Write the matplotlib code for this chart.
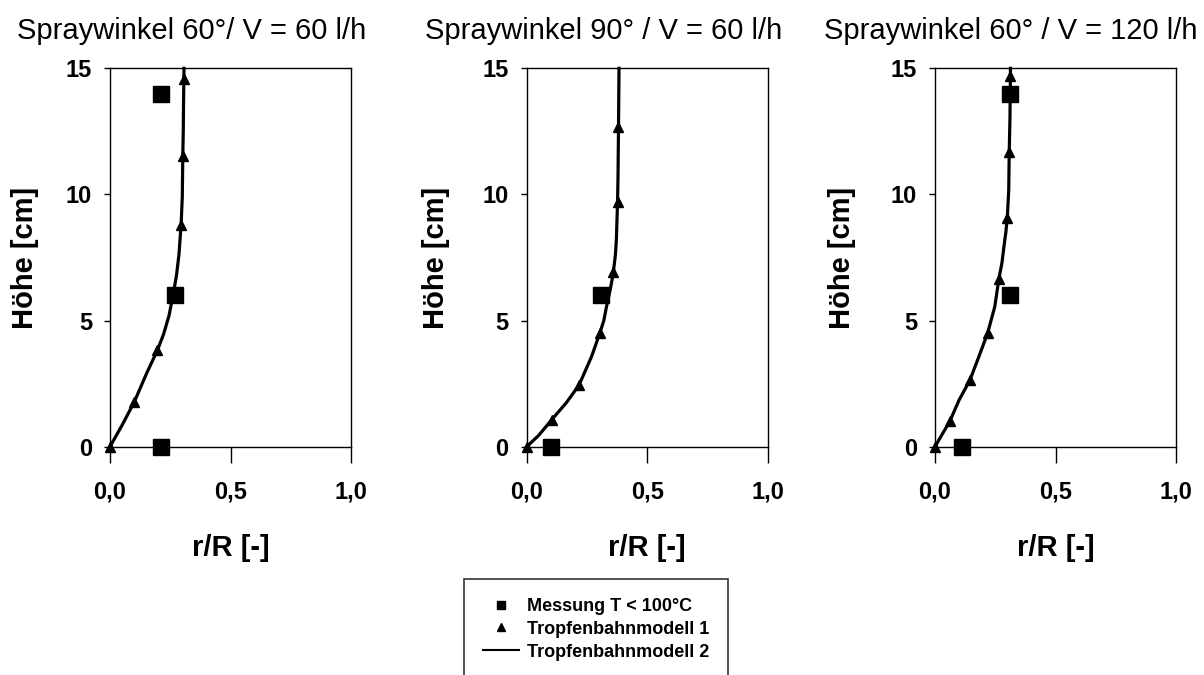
import matplotlib
matplotlib.use('Agg')
import matplotlib.pyplot as plt
from matplotlib.lines import Line2D

plt.rcParams['font.family'] = ['Liberation Sans', 'DejaVu Sans']

titles = ['Spraywinkel 60°/ V = 60 l/h',
          'Spraywinkel 90° / V = 60 l/h',
          'Spraywinkel 60° / V = 120 l/h']
xticks = [0.0, 0.5, 1.0]
xtick_labels = ['0,0', '0,5', '1,0']
yticks = [0, 5, 10, 15]
legend_labels = ['Messung T < 100°C', 'Tropfenbahnmodell 1', 'Tropfenbahnmodell 2']

# Messung T < 100°C (squares)
mess1_r = [0.21, 0.27, 0.21]
mess1_h = [0.0, 6.0, 14.0]
mess2_r = [0.10, 0.31]
mess2_h = [0.0, 6.0]
mess3_r = [0.11, 0.31, 0.31]
mess3_h = [0.0, 6.0, 14.0]

# Tropfenbahnmodell 1 (triangles)
tm1_r_a = [0.0, 0.101, 0.197, 0.295, 0.302, 0.305]
tm1_h_a = [0.0, 1.78, 3.83, 8.79, 11.52, 14.56]
tm1_r_b = [0.0, 0.103, 0.217, 0.303, 0.359, 0.377, 0.379]
tm1_h_b = [0.0, 1.06, 2.44, 4.49, 6.94, 9.71, 12.69]
tm1_r_c = [0.0, 0.062, 0.145, 0.218, 0.265, 0.300, 0.308, 0.313]
tm1_h_c = [0.0, 1.02, 2.64, 4.49, 6.65, 9.08, 11.70, 14.70]

# Tropfenbahnmodell 2 (line)
tm2_r_a = [0.0, 0.05, 0.101, 0.152, 0.197, 0.222, 0.245, 0.263, 0.276, 0.286, 0.295, 0.300, 0.302, 0.304, 0.305, 0.307]
tm2_h_a = [0.0, 0.85, 1.78, 2.91, 3.83, 4.45, 5.2, 6.08, 6.8, 7.6, 8.79, 9.91, 11.52, 12.5, 13.48, 15.0]
tm2_r_b = [0.0, 0.05, 0.103, 0.165, 0.217, 0.269, 0.303, 0.320, 0.331, 0.346, 0.359, 0.368, 0.372, 0.377, 0.379, 0.381, 0.383]
tm2_h_b = [0.0, 0.45, 1.06, 1.75, 2.44, 3.57, 4.49, 5.0, 5.55, 6.2, 6.87, 7.6, 8.19, 9.71, 10.8, 12.69, 15.0]
tm2_r_c = [0.0, 0.062, 0.10, 0.145, 0.182, 0.218, 0.248, 0.265, 0.278, 0.286, 0.294, 0.300, 0.306, 0.308, 0.311, 0.313, 0.313]
tm2_h_c = [0.0, 1.02, 1.85, 2.64, 3.57, 4.49, 5.55, 6.65, 7.3, 7.93, 8.5, 9.08, 10.18, 11.70, 13.0, 14.70, 15.0]

panels = [
    (mess1_r, mess1_h, tm1_r_a, tm1_h_a, tm2_r_a, tm2_h_a),
    (mess2_r, mess2_h, tm1_r_b, tm1_h_b, tm2_r_b, tm2_h_b),
    (mess3_r, mess3_h, tm1_r_c, tm1_h_c, tm2_r_c, tm2_h_c),
]

W, H = 1204, 675
fig = plt.figure(figsize=(W / 100, H / 100), dpi=100)

ax_left_px = [110, 526.7, 935]
ax_w_px = 241
ax_top_px, ax_bot_px = 68.3, 446.7
title_x_px = [192, 604, 1011]
ylabel_x = [-0.293, -0.318, -0.328]

for i, (mr, mh, t1r, t1h, t2r, t2h) in enumerate(panels):
    ax = fig.add_axes([ax_left_px[i] / W, 1 - ax_bot_px / H,
                       ax_w_px / W, (ax_bot_px - ax_top_px) / H])
    ax.plot(t2r, t2h, color='black', lw=2.3, clip_on=False, zorder=2,
            solid_joinstyle='round')
    ax.plot(t1r, t1h, ls='none', marker='^', ms=7.5, color='black', clip_on=False, zorder=3)
    ax.plot(mr, mh, ls='none', marker='s', ms=11, color='black', clip_on=False, zorder=4)
    ax.set_xlim(0, 1)
    ax.set_ylim(0, 15)
    ax.set_xticks(xticks)
    ax.set_xticklabels(xtick_labels)
    ax.set_yticks(yticks)
    for lab in ax.get_xticklabels() + ax.get_yticklabels():
        lab.set_fontweight('bold')
        lab.set_fontsize(17)
    ax.tick_params(axis='x', direction='out', length=11.5, width=1, pad=13)
    ax.tick_params(axis='y', direction='out', length=4, width=1, pad=9)
    for sp in ax.spines.values():
        sp.set_linewidth(1)
    ax.set_xlabel('r/R [-]', fontsize=21, fontweight='bold')
    ax.set_ylabel('Höhe [cm]', fontsize=21, fontweight='bold')
    ax.xaxis.set_label_coords(0.5, -0.232)
    ax.yaxis.set_label_coords(ylabel_x[i], 0.5)
    fig.text(title_x_px[i] / W, 1 - 39 / H, titles[i], fontsize=21,
             ha='center', va='baseline')

handles = [
    Line2D([], [], ls='none', marker='s', ms=6, color='black'),
    Line2D([], [], ls='none', marker='^', ms=6, color='black'),
    Line2D([], [], color='black', lw=1.5),
]
leg = fig.legend(handles, legend_labels, loc='upper left',
                 bbox_to_anchor=(464 / W, 1 - 579 / H), borderaxespad=0,
                 fancybox=False, frameon=True, edgecolor='black',
                 prop={'weight': 'bold', 'size': 13},
                 handlelength=2.0, handletextpad=0.45, labelspacing=0.32,
                 borderpad=1.05)
leg.get_frame().set_linewidth(1.2)

fig.savefig('out.png', dpi=100)
